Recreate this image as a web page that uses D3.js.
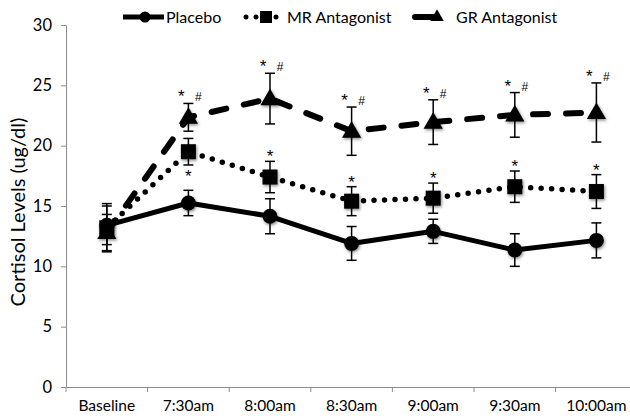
<!DOCTYPE html>
<html>
<head>
<meta charset="utf-8">
<script src="https://cdn.jsdelivr.net/npm/d3@7"></script>
<style>
  html, body { margin: 0; padding: 0; background: #fff; }
  #chart { width: 630px; height: 420px; overflow: hidden; }
  text { font-family: Lato, "Open Sans", sans-serif; fill: #000; }
  text.sig { font-family: "Liberation Sans", "DejaVu Sans", sans-serif; }
</style>
</head>
<body>
<div id="chart"></div>
<script>
const categories = ["Baseline", "7:30am", "8:00am", "8:30am", "9:00am", "9:30am", "10:00am"];
const yTicks = [0, 5, 10, 15, 20, 25, 30];

const placebo = [13.4, 15.25, 14.15, 11.9, 12.9, 11.35, 12.15];
const placeboErr = [1.6, 1.05, 1.45, 1.4, 1.0, 1.35, 1.45];

const mrAntagonist = [13.2, 19.5, 17.4, 15.4, 15.65, 16.6, 16.2];
const mrErr = [2.0, 1.1, 1.3, 1.2, 1.25, 1.3, 1.4];

const grAntagonist = [12.8, 22.35, 23.9, 21.2, 21.95, 22.55, 22.75];
const grErr = [1.5, 1.15, 2.1, 2.0, 1.85, 1.85, 2.45];

// significance marks: * vs placebo, # vs MR
const mrStar = [0, 1, 1, 1, 1, 1, 1];
const mrStarBelow = [0, 1, 0, 0, 0, 0, 0];
const grStar = [0, 1, 1, 1, 1, 1, 1];
const grHash = [0, 1, 1, 1, 1, 1, 1];

const width = 630;
const height = 420;
const margin = { top: 25, left: 66, bottom: 33 };

const svg = d3.select("#chart")
    .append("svg")
    .attr("width", width)
    .attr("height", height);

const defs = svg.append("defs");
const shadow = defs.append("filter")
    .attr("id", "shadow")
    .attr("x", "-50%").attr("y", "-50%")
    .attr("width", "200%").attr("height", "200%");
shadow.append("feDropShadow")
    .attr("dx", 1).attr("dy", 1.5)
    .attr("stdDeviation", 1.5)
    .attr("flood-color", "#000")
    .attr("flood-opacity", 0.45);

const xScale = d3.scaleBand()
    .domain(categories)
    .range([margin.left, margin.left + 7 * 81.6]);

const yScale = d3.scaleLinear()
    .domain([0, 30])
    .range([height - margin.bottom, margin.top]);

const cx = (d, i) => xScale(categories[i]) + xScale.bandwidth() / 2;

// axes
const xAxis = svg.append("g")
    .attr("transform", `translate(0,${yScale(0)})`)
    .call(d3.axisBottom(xScale).tickSize(0).tickPadding(13));
xAxis.select(".domain").attr("stroke", "#8c8c8c");
xAxis.selectAll("text").style("font-size", "15.5px");
xAxis.selectAll(".sep")
    .data(d3.range(8))
    .enter()
    .append("line")
    .attr("x1", i => margin.left + i * xScale.bandwidth())
    .attr("x2", i => margin.left + i * xScale.bandwidth())
    .attr("y1", 0)
    .attr("y2", 5)
    .attr("stroke", "#8c8c8c");

const yAxis = svg.append("g")
    .attr("transform", `translate(${margin.left},0)`)
    .call(d3.axisLeft(yScale).tickValues(yTicks).tickSize(5).tickPadding(9).tickSizeOuter(0));
yAxis.select(".domain").attr("stroke", "#8c8c8c");
yAxis.selectAll(".tick line").attr("stroke", "#8c8c8c");
yAxis.selectAll("text").style("font-size", "16.5px");

svg.append("text")
    .attr("transform", "rotate(-90)")
    .attr("x", -212)
    .attr("y", 25)
    .style("text-anchor", "middle")
    .style("font-size", "20px")
    .text("Cortisol Levels (ug/dl)");

const line = d3.line()
    .x(cx)
    .y(d => yScale(d));

function errorBars(values, errs) {
    const g = svg.append("g").attr("stroke", "#000").attr("stroke-width", 1.5);
    values.forEach((v, i) => {
        const x = cx(v, i);
        const y1 = yScale(v + errs[i]);
        const y2 = yScale(v - errs[i]);
        g.append("line").attr("x1", x).attr("x2", x).attr("y1", y1).attr("y2", y2);
        g.append("line").attr("x1", x - 5).attr("x2", x + 5).attr("y1", y1).attr("y2", y1);
        g.append("line").attr("x1", x - 5).attr("x2", x + 5).attr("y1", y2).attr("y2", y2);
    });
}

errorBars(placebo, placeboErr);
errorBars(mrAntagonist, mrErr);
errorBars(grAntagonist, grErr);

// placebo: solid line + circles
svg.append("path")
    .datum(placebo)
    .attr("d", line)
    .attr("fill", "none")
    .attr("stroke", "#000")
    .attr("stroke-width", 5)
    .attr("stroke-linejoin", "round");

svg.selectAll(".placebo-pt")
    .data(placebo)
    .enter()
    .append("circle")
    .attr("cx", cx)
    .attr("cy", d => yScale(d))
    .attr("r", 7.5)
    .attr("fill", "#000")
    .attr("filter", "url(#shadow)");

// MR: dotted line + squares
svg.append("path")
    .datum(mrAntagonist)
    .attr("d", line)
    .attr("fill", "none")
    .attr("stroke", "#000")
    .attr("stroke-width", 5.5)
    .attr("stroke-linecap", "round")
    .attr("stroke-dasharray", "0 10.5");

svg.selectAll(".mr-pt")
    .data(mrAntagonist)
    .enter()
    .append("rect")
    .attr("x", (d, i) => cx(d, i) - 7.5)
    .attr("y", d => yScale(d) - 7.5)
    .attr("width", 15)
    .attr("height", 15)
    .attr("fill", "#000")
    .attr("filter", "url(#shadow)");

// GR: dashed line + triangles
svg.append("path")
    .datum(grAntagonist)
    .attr("d", line)
    .attr("fill", "none")
    .attr("stroke", "#000")
    .attr("stroke-width", 6)
    .attr("stroke-linecap", "round")
    .attr("stroke-dasharray", "15 18");

svg.selectAll(".gr-pt")
    .data(grAntagonist)
    .enter()
    .append("path")
    .attr("d", d3.symbol().type(d3.symbolTriangle).size(160))
    .attr("transform", (d, i) => `translate(${cx(d, i)},${yScale(d) + 1})`)
    .attr("fill", "#000")
    .attr("filter", "url(#shadow)");

// significance marks
mrAntagonist.forEach((v, i) => {
    if (!mrStar[i]) return;
    const x = cx(v, i);
    const y = mrStarBelow[i] ? yScale(v - mrErr[i]) + 17 : yScale(v + mrErr[i]) + 1;
    svg.append("text")
        .attr("class", "sig")
        .attr("x", x)
        .attr("y", y)
        .style("text-anchor", "middle")
        .style("font-size", "17px")
        .text("*");
});

grAntagonist.forEach((v, i) => {
    const x = cx(v, i);
    const top = yScale(v + grErr[i]);
    if (grStar[i]) {
        svg.append("text")
            .attr("class", "sig")
            .attr("x", x - 7)
            .attr("y", top - 1)
            .style("text-anchor", "middle")
            .style("font-size", "17px")
            .text("*");
    }
    if (grHash[i]) {
        svg.append("text")
            .attr("class", "sig")
            .attr("x", x + 10)
            .attr("y", top - 2)
            .style("text-anchor", "middle")
            .style("font-size", "12px")
            .text("#");
    }
});

// legend
const legend = svg.append("g").attr("transform", "translate(0,17)");

legend.append("line")
    .attr("x1", 123).attr("x2", 164)
    .attr("stroke", "#000").attr("stroke-width", 5);
legend.append("circle").attr("cx", 145).attr("r", 5.5).attr("fill", "#000");
legend.append("text").attr("x", 166).attr("y", 6).style("font-size", "16px").text("Placebo");

legend.append("line")
    .attr("x1", 246).attr("x2", 280)
    .attr("stroke", "#000").attr("stroke-width", 5)
    .attr("stroke-linecap", "round")
    .attr("stroke-dasharray", "0 10");
legend.append("rect").attr("x", 260).attr("y", -6).attr("width", 12).attr("height", 12).attr("fill", "#000");
legend.append("text").attr("x", 287).attr("y", 6).style("font-size", "16px").text("MR Antagonist");

legend.append("line")
    .attr("x1", 415).attr("x2", 433)
    .attr("stroke", "#000").attr("stroke-width", 6)
    .attr("stroke-linecap", "round");
legend.append("path")
    .attr("d", d3.symbol().type(d3.symbolTriangle).size(80))
    .attr("transform", "translate(437,0)")
    .attr("fill", "#000");
legend.append("text").attr("x", 456).attr("y", 6).style("font-size", "16px").text("GR Antagonist");
</script>
</body>
</html>
